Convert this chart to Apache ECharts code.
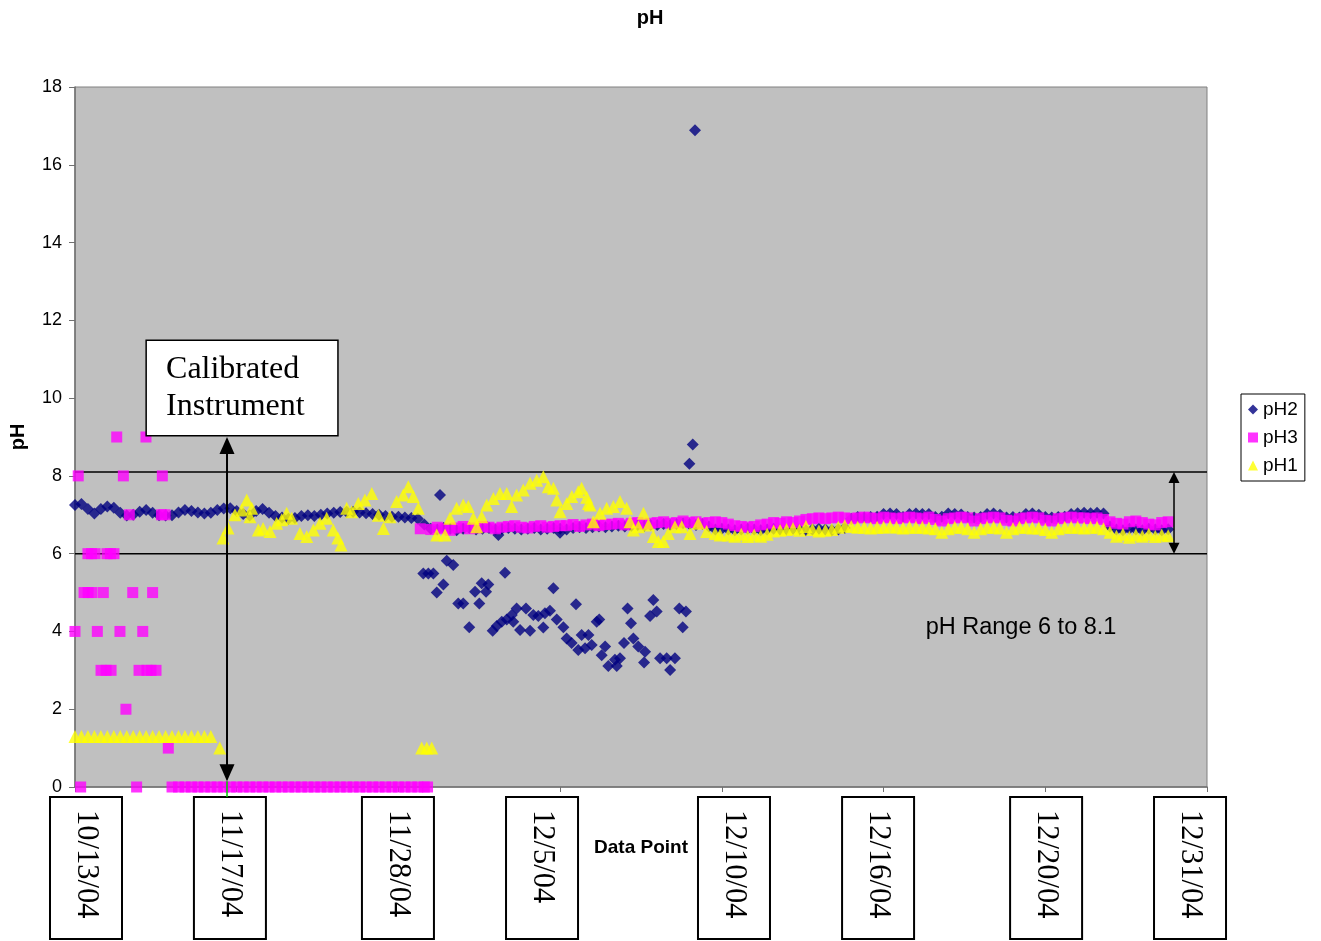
<!DOCTYPE html>
<html>
<head>
<meta charset="utf-8">
<title>pH</title>
<script src="https://cdn.jsdelivr.net/npm/echarts@6/dist/echarts.min.js"></script>
<style>
  html, body { margin: 0; padding: 0; background: #ffffff; }
  #chart { width: 1321px; height: 941px; }
</style>
</head>
<body>
<div id="chart"></div>
<script>
// ---- data -------------------------------------------------------------
// Readings are logged once per data point; the continuous runs below are
// sampled every STEP data points, starting at the index given next to them.
const STEP = 4;

// pH2 probe, whole run from data point 0
const ph2Band = [
  7.25, 7.28, 7.15, 7.03, 7.15, 7.21, 7.18, 7.05, 6.98, 7.00,
  7.08, 7.12, 7.05, 6.99, 6.98, 6.99, 7.06, 7.12, 7.10, 7.06,
  7.03, 7.05, 7.12, 7.16, 7.17, 7.10, 7.02, 6.98, 7.10, 7.15,
  7.05, 6.97, 6.93, 6.90, 6.92, 6.97, 6.99, 6.97, 7.00, 7.03,
  7.05, 7.07, 7.08, 7.08, 7.06, 7.04, 7.02, 7.00, 6.97, 6.95,
  6.95, 6.93, 6.92, 6.90, 6.75, 6.64, 6.62, 6.66, 6.64, 6.60,
  6.64, 6.66, 6.62, 6.64, 6.66, 6.62, 6.64, 6.66, 6.64, 6.62,
  6.64, 6.66, 6.62, 6.64, 6.66, 6.64, 6.62, 6.66, 6.68, 6.66,
  6.68, 6.70, 6.68, 6.70, 6.72, 6.70, 6.72, 6.74, 6.72, 6.74,
  6.74, 6.76, 6.74, 6.76, 6.78, 6.76, 6.74, 6.76, 6.70, 6.62,
  6.64, 6.62, 6.60, 6.62, 6.64, 6.62, 6.60, 6.62, 6.64, 6.62,
  6.62, 6.64, 6.62, 6.60, 6.62, 6.64, 6.62, 6.60, 6.62, 6.66,
  6.90, 6.94, 6.93, 6.94, 6.95, 7.02, 7.03, 7.02, 6.94, 7.02,
  7.03, 7.02, 7.02, 6.94, 6.95, 7.03, 7.02, 7.01, 6.94, 6.93,
  6.94, 7.02, 7.03, 7.00, 6.93, 6.94, 6.93, 7.02, 7.03, 7.00,
  6.94, 6.93, 6.94, 6.95, 7.02, 7.04, 7.05, 7.04, 7.05, 7.03,
  6.70, 6.62, 6.60, 6.64, 6.62, 6.60, 6.64, 6.62, 6.60, 6.63
];
// pH2 readings that fell away from the main run: [data point, pH]
const ph2Scatter = [
  [215.4, 5.49], [218.5, 5.49], [221.6, 5.49], [223.7, 5.00], [225.7, 7.51],
  [227.8, 5.21], [229.9, 5.82], [233.9, 5.71], [237.0, 4.72], [240.1, 4.72],
  [243.8, 4.11], [247.4, 5.02], [250.0, 4.72], [251.5, 5.24], [254.2, 5.02],
  [255.6, 5.21], [258.3, 4.02], [260.8, 4.14], [261.8, 6.48], [263.9, 4.25],
  [265.9, 5.51], [267.0, 4.31], [270.1, 4.42], [271.0, 4.25], [273.1, 4.59],
  [275.2, 4.04], [278.9, 4.59], [281.4, 4.02], [283.4, 4.42], [286.5, 4.40],
  [289.6, 4.10], [290.6, 4.47], [293.7, 4.53], [295.8, 5.11], [297.9, 4.31],
  [299.9, 6.54], [302.0, 4.11], [304.0, 3.82], [307.1, 3.70], [309.8, 4.70],
  [311.2, 3.52], [313.3, 3.91], [315.4, 3.57], [317.5, 3.91], [319.5, 3.65],
  [322.6, 4.25], [324.2, 4.31], [325.7, 3.39], [327.8, 3.61], [329.8, 3.11],
  [333.9, 3.27], [335.0, 3.11], [337.0, 3.31], [339.5, 3.70], [341.7, 4.59],
  [343.8, 4.21], [345.3, 3.82], [348.3, 3.61], [351.9, 3.20], [352.5, 3.48],
  [355.6, 4.40], [357.6, 4.81], [359.7, 4.51], [361.8, 3.31], [365.9, 3.31],
  [368.0, 3.01], [371.0, 3.31], [373.7, 4.59], [375.8, 4.11], [377.8, 4.51],
  [379.9, 8.31], [382.0, 8.81], [383.4, 16.89]
];

// pH3 probe: erratic start, zero readings, then a steady run
const ph3Start = [
  [0.0, 4], [2.0, 8], [3.5, 0], [5.6, 5], [8.0, 6], [8.1, 5], [10.2, 6],
  [10.5, 5], [12.4, 6], [13.8, 4], [16.1, 3], [17.5, 5], [19.2, 3], [19.8, 6],
  [21.9, 6], [22.3, 3], [24.1, 6], [25.8, 9], [27.8, 4], [29.9, 8], [31.5, 2],
  [33.6, 7], [35.7, 5], [38.1, 0], [39.6, 3], [41.9, 4], [43.9, 9], [44.5, 3],
  [47.0, 3], [48.0, 5], [50.1, 3], [53.5, 7], [54.0, 8], [55.7, 7], [57.7, 1],
  [213.5, 6.64], [218.0, 0]
];
const ph3ZeroFrom = 15;
const ph3Zero = [
  0, 0, 0, 0, 0, 0, 0, 0, 0, 0, 0, 0, 0, 0, 0, 0, 0, 0, 0, 0,
  0, 0, 0, 0, 0, 0, 0, 0, 0, 0, 0, 0, 0, 0, 0, 0, 0, 0, 0, 0
];
const ph3RunFrom = 55;
const ph3Run = [
  6.62, 6.68, 6.64, 6.60, 6.66, 6.70, 6.64,
  6.66, 6.70, 6.68, 6.64, 6.68, 6.70, 6.72, 6.68, 6.66, 6.70, 6.72, 6.68, 6.70, 6.72,
  6.72, 6.75, 6.70, 6.74, 6.76, 6.72, 6.75,
  6.76, 6.78, 6.74, 6.78, 6.80, 6.76, 6.78,
  6.80, 6.82, 6.78, 6.80, 6.84, 6.80, 6.82, 6.78, 6.80, 6.82, 6.80,
  6.76, 6.72, 6.70, 6.68, 6.70, 6.74, 6.76,
  6.80, 6.78, 6.82, 6.80, 6.84,
  6.88, 6.90, 6.92, 6.90, 6.92, 6.94, 6.92, 6.90, 6.92, 6.94,
  6.92, 6.90, 6.94, 6.92, 6.90, 6.92, 6.94, 6.92, 6.90, 6.94,
  6.88, 6.84, 6.90, 6.92, 6.94, 6.92, 6.84, 6.90, 6.92, 6.94,
  6.92, 6.86, 6.84, 6.90, 6.92, 6.94, 6.92, 6.86, 6.84, 6.90,
  6.92, 6.94, 6.92,
  6.92, 6.90, 6.92, 6.88, 6.82,
  6.78, 6.76, 6.82, 6.84, 6.80, 6.76, 6.74, 6.80, 6.82
];

// pH1 probe: low readings before calibration, swings, then a steady run
const ph1Low = [
  1.3, 1.3, 1.3, 1.3, 1.3, 1.3, 1.3, 1.3, 1.3, 1.3, 1.3,
  1.3, 1.3, 1.3, 1.3, 1.3, 1.3, 1.3, 1.3, 1.3, 1.3, 1.3
];
const ph1Swing = [
  [89.5, 1.0], [91.5, 6.40], [94.6, 6.66], [98.9, 7.00], [103.1, 7.12],
  [106.2, 7.38], [108.2, 6.95], [109.3, 7.17], [113.4, 6.61], [116.3, 6.65],
  [120.6, 6.57], [124.7, 6.78], [127.8, 6.87], [130.9, 7.04], [134.0, 6.91],
  [139.1, 6.52], [143.3, 6.44], [147.4, 6.61], [151.5, 6.78], [155.6, 6.91],
  [159.7, 6.61], [162.5, 6.40], [164.5, 6.22], [168.0, 7.17], [171.1, 7.08],
  [175.2, 7.29], [179.3, 7.38], [183.5, 7.55], [187.6, 6.99], [190.7, 6.65],
  [194.8, 6.95], [198.9, 7.34], [203.0, 7.51], [206.1, 7.72], [209.2, 7.47],
  [212.3, 7.17], [214.4, 1.0], [217.5, 1.0], [220.6, 1.0], [223.7, 6.48],
  [228.8, 6.48], [231.9, 6.91], [236.0, 7.17], [240.1, 7.25], [243.2, 7.21],
  [246.3, 6.91], [248.4, 6.69], [251.5, 6.95], [254.6, 7.25], [258.7, 7.42],
  [262.8, 7.55], [267.0, 7.55], [270.0, 7.21], [273.1, 7.51], [277.2, 7.64],
  [281.4, 7.81], [285.5, 7.89], [289.6, 7.98], [292.7, 7.72], [295.8, 7.68],
  [297.9, 7.38], [300.0, 7.08], [304.1, 7.29], [307.2, 7.47], [311.2, 7.59],
  [313.3, 7.68], [316.4, 7.45], [317.5, 7.29], [318.6, 7.25], [320.5, 6.82],
  [324.7, 7.04], [328.8, 7.17], [332.9, 7.21], [337.0, 7.34], [341.1, 7.17],
  [343.2, 6.82], [345.3, 6.61], [348.4, 6.69], [351.5, 7.04], [354.6, 6.74],
  [357.6, 6.44], [360.7, 6.31], [363.8, 6.31], [366.9, 6.52], [371.0, 6.69],
  [375.2, 6.69], [380.3, 6.52], [385.4, 6.78], [390.6, 6.57], [395.8, 6.52],
  [398.9, 6.48]
];
const ph1RunFrom = 101;
const ph1Run = [
  6.48, 6.45, 6.50, 6.44, 6.48, 6.45, 6.50, 6.58,
  6.60, 6.62, 6.65, 6.60, 6.70, 6.62, 6.58, 6.60, 6.62, 6.68, 6.72,
  6.70, 6.68, 6.68, 6.66, 6.68, 6.68, 6.70, 6.68, 6.66, 6.68,
  6.68, 6.68, 6.66, 6.64, 6.55, 6.64, 6.68, 6.68, 6.64, 6.55,
  6.64, 6.68, 6.68, 6.66, 6.55, 6.64, 6.68, 6.68, 6.66, 6.66,
  6.62, 6.55, 6.64, 6.68, 6.68, 6.68, 6.66, 6.68, 6.68, 6.64, 6.55,
  6.45, 6.50, 6.42, 6.48, 6.45, 6.50, 6.44, 6.48, 6.46
];

// acceptable range and the calibration point
const rangeLow = 6.0;
const rangeHigh = 8.1;
const calibrationPoint = 94;
const rangeArrowPoint = 679.6;

// axis ticks
const yTicks = { min: 0, max: 18, step: 2 };
const xTicks = { min: 0, max: 700, step: 100 };

// day each stretch of readings was taken, and the data point it starts at
const dateLabels = ['10/13/04', '11/17/04', '11/28/04', '12/5/04', '12/10/04', '12/16/04', '12/20/04', '12/31/04'];
const dateAt = [6.8, 95.8, 199.7, 288.8, 407.5, 496.6, 600.5, 689.5];

// ---- build ----------------------------------------------------------
function run(values, from) {
  const out = [];
  values.forEach((v, i) => { if (v !== null) out.push([(from + i) * STEP, v]); });
  return out;
}

const ph2Data = run(ph2Band, 0).concat(ph2Scatter);
const ph3Data = ph3Start.concat(run(ph3Zero, ph3ZeroFrom), run(ph3Run, ph3RunFrom));
const ph1Data = run(ph1Low, 0).concat(ph1Swing, run(ph1Run, ph1RunFrom));

const SANS = '"Liberation Sans", Arial, sans-serif';
const SERIF = '"Liberation Serif", "Times New Roman", serif';

const chart = echarts.init(document.getElementById('chart'), null, { renderer: 'canvas' });

const option = {
  animation: false,
  backgroundColor: '#ffffff',
  grid: {
    left: 75, right: 114, top: 87, bottom: 154,
    show: true, backgroundColor: '#c0c0c0', borderColor: '#808080', borderWidth: 1
  },
  legend: {
    data: ['pH2', 'pH3', 'pH1'],
    orient: 'vertical',
    left: 1241, top: 394,
    itemWidth: 10, itemHeight: 10, itemGap: 9,
    padding: [6, 7, 6, 7],
    backgroundColor: '#ffffff', borderColor: '#000000', borderWidth: 1,
    selectedMode: false,
    textStyle: { fontFamily: SANS, fontSize: 19, color: '#000000' }
  },
  xAxis: {
    type: 'value',
    min: xTicks.min, max: xTicks.max, interval: xTicks.step,
    axisLine: { lineStyle: { color: '#707070', width: 1.5 } },
    axisTick: { show: true, inside: false, length: 5, lineStyle: { color: '#707070' } },
    axisLabel: { show: false },
    splitLine: { show: false }
  },
  yAxis: {
    type: 'value',
    min: yTicks.min, max: yTicks.max, interval: yTicks.step,
    axisLine: { show: true, lineStyle: { color: '#707070', width: 1.5 } },
    axisTick: { show: true, inside: false, length: 6, lineStyle: { color: '#707070' } },
    axisLabel: { fontFamily: SANS, fontSize: 18, color: '#000000', margin: 13 },
    splitLine: { show: false }
  },
  series: [
    { name: 'pH2', type: 'scatter', symbol: 'diamond', symbolSize: 12, clip: false,
      itemStyle: { color: '#000080' }, data: ph2Data },
    { name: 'pH3', type: 'scatter', symbol: 'rect', symbolSize: 11, clip: false,
      itemStyle: { color: '#ff00ff' }, data: ph3Data },
    { name: 'pH1', type: 'scatter', symbol: 'triangle', symbolSize: 13, clip: false,
      itemStyle: { color: '#ffff00' }, data: ph1Data }
  ]
};

chart.setOption(option);

// ---- annotations ----------------------------------------------------
const P = (x, y) => chart.convertToPixel({ gridIndex: 0 }, [x, y]);
const left = P(xTicks.min, 0)[0];
const right = P(xTicks.max, 0)[0];
const bottom = P(0, yTicks.min)[1];

function vArrow(x, yTop, yBot, headW, headL, lw) {
  return [
    { type: 'line', z: 20, shape: { x1: x, y1: yTop + 2, x2: x, y2: yBot - 2 },
      style: { stroke: '#000000', lineWidth: lw } },
    { type: 'polygon', z: 20, shape: { points: [[x, yTop], [x - headW / 2, yTop + headL], [x + headW / 2, yTop + headL]] },
      style: { fill: '#000000' } },
    { type: 'polygon', z: 20, shape: { points: [[x, yBot], [x - headW / 2, yBot - headL], [x + headW / 2, yBot - headL]] },
      style: { fill: '#000000' } }
  ];
}

const g = [];

// acceptable range bounds
[rangeLow, rangeHigh].forEach(v => {
  const y = P(0, v)[1];
  g.push({ type: 'line', z: 1, shape: { x1: left, y1: y, x2: right, y2: y },
    style: { stroke: '#000000', lineWidth: 1.5 } });
});

// range arrow on the right
const ra = P(rangeArrowPoint, rangeHigh);
g.push(...vArrow(ra[0], ra[1], P(0, rangeLow)[1], 11, 11, 1.5));

g.push({ type: 'text', z: 20, x: P(585, 4.09)[0], y: P(585, 4.09)[1],
  style: { text: 'pH Range 6 to 8.1', font: '23.5px ' + SANS, fill: '#000000',
    textAlign: 'center', textVerticalAlign: 'middle' } });

// calibration marker
const cx = P(calibrationPoint, 0)[0];
const calTop = P(0, 9.0)[1];
const calBot = P(0, 0.15)[1];
g.push(...vArrow(cx, calTop, calBot, 15, 17, 2));
g.push({ type: 'line', z: 21, shape: { x1: cx, y1: calBot, x2: cx, y2: bottom + 10 },
  style: { stroke: '#00cc00', lineWidth: 1.5 } });

const boxTL = P(44, 11.49);
const boxBR = P(162.6, 9.03);
g.push({ type: 'rect', z: 20,
  shape: { x: boxTL[0], y: boxTL[1], width: boxBR[0] - boxTL[0], height: boxBR[1] - boxTL[1] },
  style: { fill: '#ffffff', stroke: '#000000', lineWidth: 1.5 } });
const calText = P(56.3, 10.25);
g.push({ type: 'text', z: 21, x: calText[0], y: calText[1],
  style: { text: 'Calibrated\nInstrument', font: '32px ' + SERIF, fill: '#000000',
    lineHeight: 37, textAlign: 'left', textVerticalAlign: 'middle' } });

// date boxes under the axis
dateLabels.forEach((d, k) => {
  const x = P(dateAt[k], 0)[0];
  g.push({ type: 'rect', z: 20, shape: { x: x - 36, y: bottom + 10, width: 72, height: 142 },
    style: { fill: '#ffffff', stroke: '#000000', lineWidth: 2 } });
  g.push({ type: 'text', z: 21, x: x, y: bottom + 23, rotation: -Math.PI / 2,
    style: { text: d, font: '30.5px ' + SERIF, fill: '#000000',
      textAlign: 'left', textVerticalAlign: 'middle' } });
});

// titles
g.push({ type: 'text', z: 20, x: 650, y: 18,
  style: { text: 'pH', font: 'bold 20px ' + SANS, fill: '#000000', textAlign: 'center', textVerticalAlign: 'middle' } });
g.push({ type: 'text', z: 20, x: 18, y: (P(0, yTicks.max)[1] + bottom) / 2, rotation: Math.PI / 2,
  style: { text: 'pH', font: 'bold 20px ' + SANS, fill: '#000000', textAlign: 'center', textVerticalAlign: 'middle' } });
g.push({ type: 'text', z: 20, x: 641, y: 848,
  style: { text: 'Data Point', font: 'bold 19px ' + SANS, fill: '#000000', textAlign: 'center', textVerticalAlign: 'middle' } });

chart.setOption({ graphic: g });
</script>
</body>
</html>
